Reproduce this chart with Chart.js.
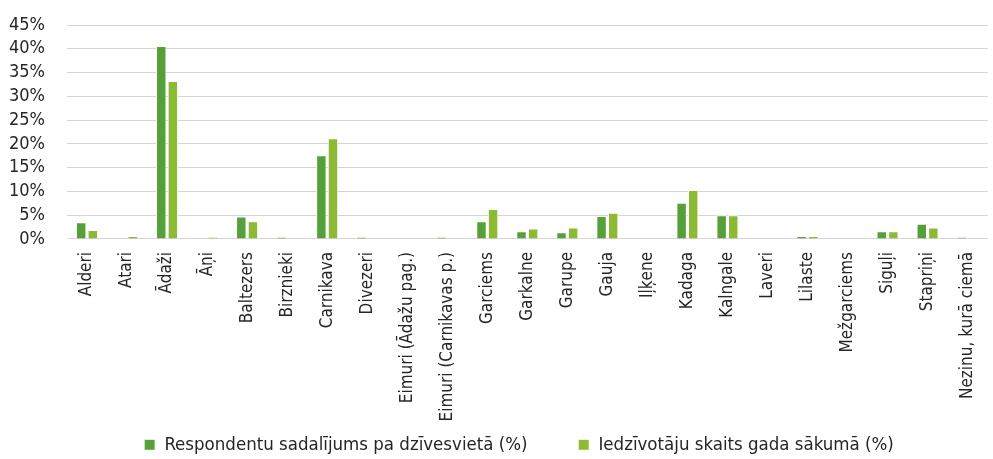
<!DOCTYPE html>
<html>
<head>
<meta charset="utf-8">
<script src="https://cdn.jsdelivr.net/npm/chart.js@4"></script>
<style>
  html, body { margin: 0; padding: 0; background: #fff; }
  #wrap { width: 993px; height: 459px; }
</style>
</head>
<body>
<div id="wrap"><canvas id="ciemiChart"></canvas></div>
<script>
// Ciemi (kategorijas)
const ciemi = ['Alderi', 'Atari', 'Ādaži', 'Āņi', 'Baltezers', 'Birznieki', 'Carnikava', 'Divezeri',
  'Eimuri (Ādažu pag.)', 'Eimuri (Carnikavas p.)', 'Garciems', 'Garkalne', 'Garupe', 'Gauja', 'Iļķene',
  'Kadaga', 'Kalngale', 'Laveri', 'Lilaste', 'Mežgarciems', 'Siguļi', 'Stapriņi', 'Nezinu, kurā ciemā'];

// Respondentu sadalījums (%)
const respondenti = [3.5, 0, 40.6, 0, 4.7, 0.4, 17.6, 0.4, 0, 0.4, 3.7, 1.6, 1.4, 4.8, 0,
  7.6, 5.0, 0, 0.6, 0, 1.6, 3.2, 0.35];

// Iedzīvotāju skaits (%)
const iedzivotaji = [1.9, 0.6, 33.2, 0.4, 3.7, 0, 21.2, 0, 0, 0, 6.3, 2.2, 2.4, 5.5, 0,
  10.3, 5.0, 0, 0.6, 0, 1.6, 2.4, 0];

const yTicks = [0, 5, 10, 15, 20, 25, 30, 35, 40, 45];

const fontName = "'Liberation Sans Narrow', 'DejaVu Sans Condensed', 'Liberation Sans', sans-serif";
Chart.defaults.font.family = fontName;
Chart.defaults.color = '#262626';

// atstarpe starp leģendas elementiem (padding leģendā palielina arī augstumu)
const gap = '\u2003\u2003\u2002';

const ctx = document.getElementById('ciemiChart').getContext('2d');
new Chart(ctx, {
  type: 'bar',
  data: {
    labels: ciemi,
    datasets: [
      {
        label: 'Respondentu sadalījums pa dzīvesvietā (%)' + gap,
        data: respondenti,
        backgroundColor: '#55a038',
        borderColor: '#ffffff',
        borderWidth: 1,
        borderSkipped: 'bottom',
        categoryPercentage: 0.58,
        barPercentage: 0.9
      },
      {
        label: 'Iedzīvotāju skaits gada sākumā (%)\u2003',
        data: iedzivotaji,
        backgroundColor: '#8cba34',
        borderColor: '#ffffff',
        borderWidth: 1,
        borderSkipped: 'bottom',
        categoryPercentage: 0.58,
        barPercentage: 0.9
      }
    ]
  },
  options: {
    responsive: true,
    maintainAspectRatio: false,
    animation: false,
    layout: { padding: { left: -13, right: -9, top: 25, bottom: -5 } },
    plugins: {
      legend: {
        position: 'bottom',
        fullSize: false,
        labels: {
          boxWidth: 11,
          boxHeight: 11,
          padding: 9,
          font: { size: 18.5 },
          color: '#262626'
        }
      },
      tooltip: { enabled: false }
    },
    scales: {
      x: {
        grid: { display: false },
        border: { display: false },
        ticks: {
          minRotation: 90,
          maxRotation: 90,
          autoSkip: false,
          padding: 5,
          font: { size: 17 },
          color: '#262626'
        }
      },
      y: {
        min: 0,
        max: 45,
        afterBuildTicks: axis => { axis.ticks = yTicks.map(v => ({ value: v })); },
        // tick padding nedrīkst palielināt atstarpi virs augšējās līnijas
        afterFit: axis => { axis.paddingTop = 10; },
        grid: { color: '#d4d4d4', lineWidth: 1, drawTicks: false },
        border: { display: false },
        ticks: {
          autoSkip: false,
          padding: 22,
          font: { size: 18 },
          color: '#262626',
          callback: v => v + '%'
        }
      }
    }
  }
});
</script>
</body>
</html>
